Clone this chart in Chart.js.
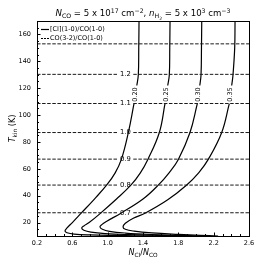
<!DOCTYPE html>
<html>
<head>
<meta charset="utf-8">
<script src="https://cdn.jsdelivr.net/npm/chart.js@4/dist/chart.umd.min.js"></script>
<style>
  html, body { margin: 0; padding: 0; background: #fff; }
  #c { display: block; }
</style>
</head>
<body>
<canvas id="c" width="266" height="266"></canvas>
<script>
// [CI](1-0)/CO(1-0) ratio contours (solid), one list per level; null marks the label gap
const ratioLevels = ['0.20', '0.25', '0.30', '0.35'];
const ratioX = [
    [1.355, 1.352, 1.347, 1.33, null, 1.298, 1.234, 1.155, 1.085, 0.99, 0.85, 0.7, 0.6, 0.54, 0.517, 0.54, 0.62, 0.8, 1.1, 1.5],
    [1.706, 1.703, 1.698, 1.68, null, 1.649, 1.585, 1.455, 1.37, 1.265, 1.1, 0.92, 0.79, 0.73, 0.706, 0.73, 0.81, 0.97, 1.25, 1.6, 1.85],
    [2.065, 2.062, 2.057, 2.043, null, 2.015, 1.932, 1.80, 1.695, 1.575, 1.40, 1.15, 0.99, 0.93, 0.913, 0.94, 1.02, 1.2, 1.5, 1.8, 2.05],
    [2.442, 2.438, 2.419, 2.404, null, 2.377, 2.291, 2.139, 2.03, 1.895, 1.68, 1.423, 1.29, 1.2, 1.174, 1.2, 1.3, 1.5, 1.8, 2.05, 2.25]
];
const ratioT = [
    [170, 150, 130, 122, null, 108.5, 87, 67, 57, 48, 37.5, 27, 20, 16, 13.7, 12.4, 11.4, 10.8, 10.4, 10.0],
    [170, 150, 130, 122, null, 108.5, 87, 67, 57, 48, 37.5, 27, 20, 17.5, 15.9, 14.3, 12.9, 11.8, 11.0, 10.4, 10.0],
    [170, 150, 130, 122, null, 108.5, 87, 67, 57, 48, 37.5, 27, 21, 18.3, 16.7, 15.0, 13.5, 12.2, 11.1, 10.5, 10.0],
    [170, 150, 130, 122, null, 108.5, 87, 67, 57, 48, 37, 27, 23.2, 19.5, 16.7, 15.0, 13.6, 12.3, 11.2, 10.5, 10.0]
];

// CO(3-2)/CO(1-0) ratio contours (dashed), nearly flat in T
const coLevels = ['1.3', '1.2', '1.1', '1.0', '0.9', '0.8', '0.7'];
const coT = [153, 130.3, 108.6, 87, 67.2, 47.9, 27.3];
const coLabelled = [false, true, true, true, true, true, true];

const xTicks = [0.2, 0.6, 1.0, 1.4, 1.8, 2.2, 2.6];
const yTicks = [20, 40, 60, 80, 100, 120, 140, 160];

const X_MIN = 0.2, X_MAX = 2.6, Y_MIN = 10, Y_MAX = 170;
const LABEL_GAP = [1.11, 1.29];   // where the dashed lines break for their labels
const FONT = "'DejaVu Sans', sans-serif";

const datasets = [];
coT.forEach((t, i) => {
    const data = coLabelled[i]
        ? [{x: X_MIN, y: t}, {x: LABEL_GAP[0], y: t}, {x: null, y: null}, {x: LABEL_GAP[1], y: t}, {x: X_MAX, y: t}]
        : [{x: X_MIN, y: t}, {x: X_MAX, y: t}];
    datasets.push({
        data: data,
        showLine: true,
        borderColor: '#1a1a1a',
        borderWidth: 1,
        borderDash: [3.5, 1.6],
        pointRadius: 0,
        spanGaps: false
    });
});
ratioLevels.forEach((lev, i) => {
    datasets.push({
        data: ratioX[i].map((x, j) => ({x: x, y: ratioT[i][j]})),
        showLine: true,
        borderColor: '#000',
        borderWidth: 1.2,
        pointRadius: 0,
        tension: 0.4,
        spanGaps: false
    });
});

// draw a run of text pieces with italic / sub / superscript
function richText(ctx, parts, x, y, align) {
    let w = 0;
    parts.forEach(p => {
        ctx.font = (p.it ? 'italic ' : '') + p.s + 'px ' + FONT;
        p.w = ctx.measureText(p.t).width;
        w += p.w;
    });
    let cx = align === 'center' ? x - w / 2 : x;
    ctx.textBaseline = 'alphabetic';
    ctx.textAlign = 'left';
    parts.forEach(p => {
        ctx.font = (p.it ? 'italic ' : '') + p.s + 'px ' + FONT;
        ctx.fillText(p.t, cx, y + (p.dy || 0));
        cx += p.w;
    });
}

const decor = {
    id: 'decor',
    afterDatasetsDraw(chart) {
        const {ctx, scales: {x, y}} = chart;
        ctx.save();
        ctx.fillStyle = '#000';
        ctx.font = '6.8px ' + FONT;
        ctx.textAlign = 'center';
        ctx.textBaseline = 'middle';
        // dashed contour labels, centred in their gap
        coT.forEach((t, i) => {
            if (!coLabelled[i]) return;
            ctx.fillText(coLevels[i], x.getPixelForValue((LABEL_GAP[0] + LABEL_GAP[1]) / 2), y.getPixelForValue(t));
        });
        // solid contour labels, rotated, centred in their gap
        ctx.font = '6.5px ' + FONT;
        ratioLevels.forEach((lev, i) => {
            const g = ratioT[i].indexOf(null);
            const px = x.getPixelForValue((ratioX[i][g - 1] + ratioX[i][g + 1]) / 2);
            const py = y.getPixelForValue((ratioT[i][g - 1] + ratioT[i][g + 1]) / 2);
            ctx.save();
            ctx.translate(px, py);
            ctx.rotate(-Math.PI / 2);
            ctx.fillText(lev, 0, 0);
            ctx.restore();
        });
        ctx.restore();
    },
    afterDraw(chart) {
        const {ctx, chartArea: a, scales: {x, y}} = chart;
        ctx.save();
        ctx.strokeStyle = '#000';
        ctx.lineWidth = 1;
        ctx.strokeRect(Math.round(a.left) + 0.5, Math.round(a.top) + 0.5,
            Math.round(a.right - a.left), Math.round(a.bottom - a.top));

        // inward ticks, major and minor
        ctx.beginPath();
        for (let v = X_MIN; v <= X_MAX + 1e-9; v += 0.1) {
            const px = Math.round(x.getPixelForValue(v)) + 0.5;
            const major = xTicks.some(t => Math.abs(t - v) < 1e-6);
            ctx.moveTo(px, a.bottom);
            ctx.lineTo(px, a.bottom - (major ? 3.5 : 2));
        }
        for (let v = Y_MIN; v <= Y_MAX; v += 5) {
            const py = Math.round(y.getPixelForValue(v)) + 0.5;
            const major = yTicks.includes(v);
            ctx.moveTo(a.left, py);
            ctx.lineTo(a.left + (major ? 3.5 : 2), py);
        }
        ctx.stroke();

        ctx.fillStyle = '#000';
        const mid = (a.left + a.right) / 2;
        // title
        const s = 8.6, ss = 6.2;
        richText(ctx, [
            {t: 'N', s: s, it: true}, {t: 'CO', s: ss, dy: 2},
            {t: ' = 5 x 10', s: s}, {t: '17', s: ss, dy: -3.5},
            {t: ' cm', s: s}, {t: '\u22122', s: ss, dy: -3.5},
            {t: ', ', s: s},
            {t: 'n', s: s, it: true}, {t: 'H', s: ss, dy: 2}, {t: '2', s: 4.5, dy: 3.5},
            {t: ' = 5 x 10', s: s}, {t: '3', s: ss, dy: -3.5},
            {t: ' cm', s: s}, {t: '\u22123', s: ss, dy: -3.5}
        ], mid, 16, 'center');

        // x axis title
        richText(ctx, [
            {t: 'N', s: 8, it: true}, {t: 'CI', s: 5.8, dy: 2},
            {t: '/', s: 8},
            {t: 'N', s: 8, it: true}, {t: 'CO', s: 5.8, dy: 2}
        ], mid, 255, 'center');

        // y axis title
        ctx.save();
        ctx.translate(15, (a.top + a.bottom) / 2);
        ctx.rotate(-Math.PI / 2);
        richText(ctx, [
            {t: 'T', s: 8, it: true}, {t: 'kin', s: 5.8, dy: 2}, {t: ' (K)', s: 8}
        ], 0, 0, 'center');
        ctx.restore();

        // legend, top left inside the frame
        const lx = a.left + 4, ly1 = a.top + 8.5, ly2 = a.top + 17.5;
        ctx.lineWidth = 1.2;
        ctx.beginPath();
        ctx.moveTo(lx, ly1); ctx.lineTo(lx + 8, ly1);
        ctx.stroke();
        ctx.lineWidth = 1;
        ctx.setLineDash([2, 1]);
        ctx.beginPath();
        ctx.moveTo(lx, ly2); ctx.lineTo(lx + 8, ly2);
        ctx.stroke();
        ctx.setLineDash([]);
        ctx.font = '6.5px ' + FONT;
        ctx.textAlign = 'left';
        ctx.textBaseline = 'middle';
        ctx.fillText('[CI](1-0)/CO(1-0)', lx + 9, ly1);
        ctx.fillText('CO(3-2)/CO(1-0)', lx + 9, ly2);
        ctx.restore();
    }
};

new Chart(document.getElementById('c'), {
    type: 'scatter',
    data: {datasets: datasets},
    options: {
        responsive: false,
        animation: false,
        layout: {padding: {top: 21, right: 17, left: 0, bottom: 0}},
        plugins: {legend: {display: false}, tooltip: {enabled: false}, title: {display: false}},
        scales: {
            x: {
                type: 'linear', min: X_MIN, max: X_MAX,
                grid: {display: false, drawTicks: false},
                border: {display: false},
                afterBuildTicks: s => { s.ticks = xTicks.map(v => ({value: v})); },
                afterFit: s => { s.height = 30; },
                ticks: {
                    padding: 3, color: '#000', font: {family: FONT, size: 6.5},
                    maxRotation: 0, autoSkip: false,
                    callback: v => v.toFixed(1)
                }
            },
            y: {
                type: 'linear', min: Y_MIN, max: Y_MAX,
                grid: {display: false, drawTicks: false},
                border: {display: false},
                afterBuildTicks: s => { s.ticks = yTicks.map(v => ({value: v})); },
                afterFit: s => { s.width = 37; },
                ticks: {
                    padding: 6, color: '#000', font: {family: FONT, size: 6.5},
                    autoSkip: false,
                    callback: v => String(v)
                }
            }
        }
    },
    plugins: [decor]
});
</script>
</body>
</html>
